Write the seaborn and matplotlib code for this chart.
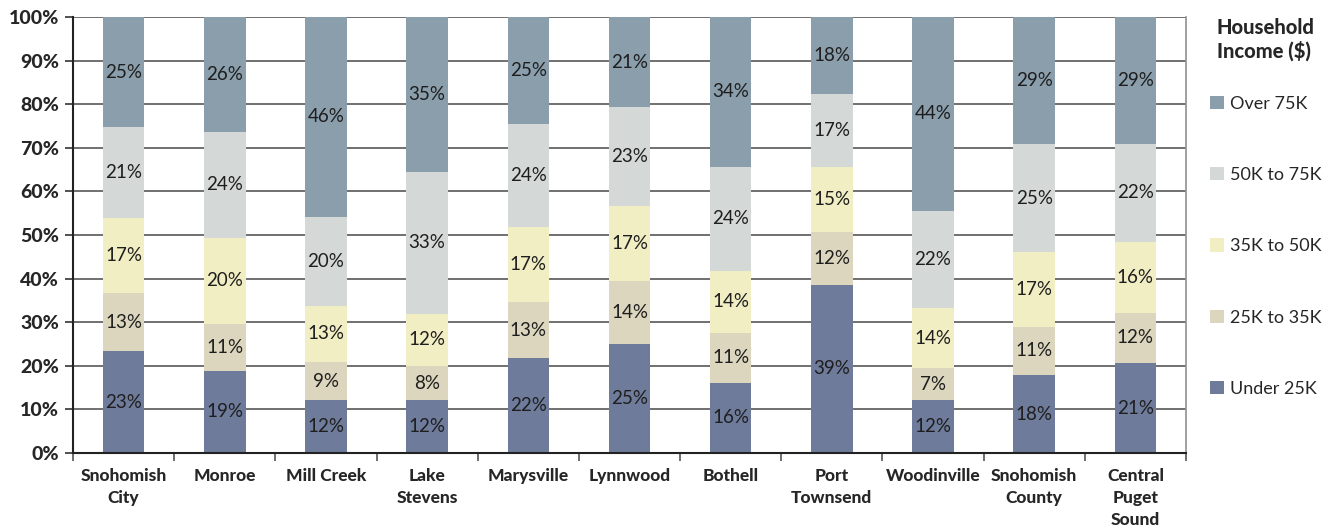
import matplotlib
matplotlib.use("Agg")
import matplotlib.pyplot as plt
from matplotlib.patches import Patch
from matplotlib.ticker import FixedLocator, PercentFormatter
import numpy as np
import pandas as pd
import seaborn as sns

# Household income distribution by area (percent of households)
areas = ["Snohomish\nCity", "Monroe", "Mill Creek", "Lake\nStevens", "Marysville",
         "Lynnwood", "Bothell", "Port\nTownsend", "Woodinville", "Snohomish\nCounty",
         "Central\nPuget\nSound"]
under_25k = [23.3, 18.9, 12.2, 12.1, 21.8, 25.1, 16.1, 38.6, 12.2, 17.8, 20.6]
k25_to_35 = [13.3, 10.8, 8.6, 7.9, 12.8, 14.4, 11.4, 12.0, 7.2, 11.2, 11.6]
k35_to_50 = [17.4, 19.7, 13.0, 11.9, 17.2, 17.2, 14.3, 15.1, 13.8, 17.0, 16.3]
k50_to_75 = [20.7, 24.2, 20.4, 32.6, 23.6, 22.6, 23.9, 16.6, 22.4, 24.8, 22.3]
over_75k = [25.3, 26.4, 45.8, 35.4, 24.6, 20.7, 34.3, 17.7, 44.4, 29.2, 29.2]

series_names = ["Under 25K", "25K to 35K", "35K to 50K", "50K to 75K", "Over 75K"]
series_values = [under_25k, k25_to_35, k35_to_50, k50_to_75, over_75k]
colors = ["#6E7B9B", "#DBD6BD", "#F1EEC4", "#D4D8D7", "#8A9EAC"]

sns.set_theme(style="white")
plt.rcParams["font.family"] = ["Lato", "DejaVu Sans"]

fig = plt.figure(figsize=(13.37, 5.29), dpi=100)
ax = fig.add_axes([73 / 1337, 1 - 453 / 529, (1186 - 73) / 1337, (453 - 17) / 529])

vals = np.array(series_values)
cum = np.cumsum(vals, axis=0)

# stacked bars: draw cumulative totals from the top segment down
for k in range(len(series_names) - 1, -1, -1):
    df = pd.DataFrame({"area": areas, "value": cum[k]})
    sns.barplot(data=df, x="area", y="value", color=colors[k], width=0.41,
                saturation=1, linewidth=0, ax=ax, zorder=2)

# segment value labels
for k in range(len(series_names)):
    bottoms = cum[k] - vals[k]
    for i, v in enumerate(vals[k]):
        ax.text(i, bottoms[i] + v / 2, f"{v:.0f}%", ha="center", va="center",
                fontsize=13.5, fontweight="normal", color="#1e1e1e", zorder=4)

ax.set_xlim(-0.5, len(areas) - 0.5)
ax.set_ylim(0, 100)
ax.set_xlabel("")
ax.set_ylabel("")
ax.yaxis.set_major_locator(FixedLocator(np.arange(0, 101, 10)))
ax.yaxis.set_major_formatter(PercentFormatter(100, decimals=0))

# horizontal gridlines
ax.yaxis.grid(True, color="#707070", linewidth=1.4, zorder=1)
ax.set_axisbelow(True)

# category boundary ticks on x axis
ax.set_xticks(np.arange(len(areas)))
ax.set_xticklabels(areas, fontsize=12.5, fontweight="black", linespacing=1.45)
ax.xaxis.set_minor_locator(FixedLocator(np.arange(-0.5, len(areas), 1.0)))
ax.tick_params(axis="x", which="major", length=0, pad=11)
ax.tick_params(axis="x", which="minor", length=6, width=1.2, color="#555555", direction="out", bottom=True)
ax.tick_params(axis="y", which="major", length=6, width=1.2, color="#333333", direction="out", left=True,
               labelsize=14, pad=4)
for lbl in ax.get_yticklabels():
    lbl.set_fontweight("black")

for side in ["left", "bottom"]:
    ax.spines[side].set_color("#222222")
    ax.spines[side].set_linewidth(1.5)
ax.spines["top"].set_visible(False)
ax.spines["right"].set_color("#909090")
ax.spines["right"].set_linewidth(1.2)

# legend, top-to-bottom in stack order
handles = [Patch(facecolor=colors[k], edgecolor="none", label=series_names[k])
           for k in range(len(series_names) - 1, -1, -1)]
leg = fig.legend(handles=handles, loc="upper left", bbox_to_anchor=(1203 / 1337, 1 - 11 / 529),
                 frameon=False, fontsize=13, title="Household\nIncome ($)",
                 title_fontproperties={"weight": "black", "size": 14.5},
                 handlelength=0.75, handleheight=0.75, handletextpad=0.35,
                 labelspacing=3.06, borderaxespad=0)
leg._legend_box.sep = 25
leg._legend_box.align = "center"

fig.savefig("out.png", dpi=100)
